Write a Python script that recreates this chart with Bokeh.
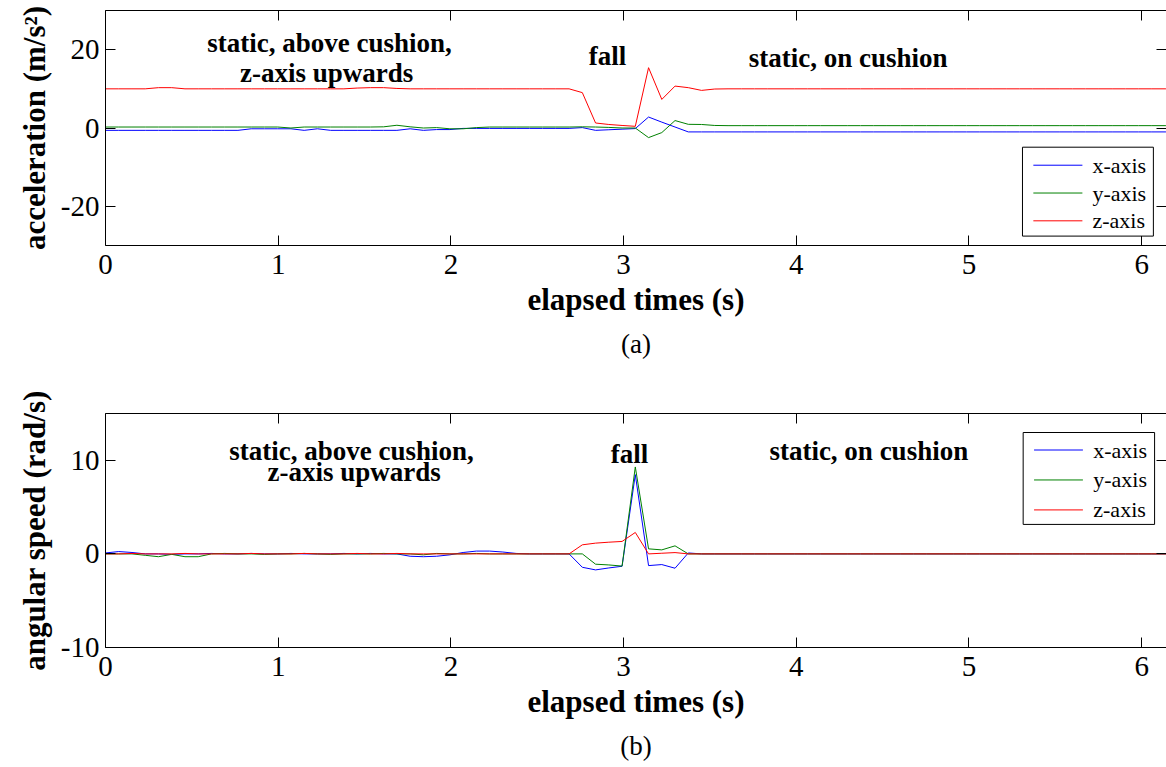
import numpy as np
from bokeh.plotting import figure
from bokeh.models import (LinearAxis, Label, Title, FixedTicker, Range1d,
                          BoxAnnotation, Arrow)
from bokeh.layouts import column
from bokeh.embed import file_html
from bokeh.resources import INLINE

# sensor sampling period in seconds (~13 Hz)
SAMPLE_PERIOD = 0.0767

# ---- accelerometer (m/s^2) ----
acc_x = [
    -0.6, -0.6, -0.6, -0.6, -0.6, -0.6, -0.6, -0.6, -0.6, -0.6,
    -0.6, -0.2, -0.2, -0.2, -0.2, -0.6, -0.2, -0.6, -0.6, -0.6,
    -0.6, -0.6, -0.6, -0.2, -0.6, -0.4, -0.4, -0.1, -0.1, -0.1,
    -0.1, -0.1, -0.1, -0.1, -0.1, -0.1, 0.1, -0.6, -0.45, -0.3,
    -0.15, 2.8, 1.5, 0.25, -1.0, -1.0, -1.0, -1.0, -1.0, -1.0,
    -1.0, -1.0, -1.0, -1.0, -1.0, -1.0, -1.0, -1.0, -1.0, -1.0,
    -1.0, -1.0, -1.0, -1.0, -1.0, -1.0, -1.0, -1.0, -1.0, -1.0,
    -1.0, -1.0, -1.0, -1.0, -1.0, -1.0, -1.0, -1.0, -1.0, -1.0,
    -1.0, -1.0,
]
acc_y = [
    0.25, 0.25, 0.25, 0.25, 0.25, 0.25, 0.25, 0.25, 0.25, 0.25,
    0.25, 0.25, 0.25, 0.25, 0.0, 0.25, 0.25, 0.25, 0.25, 0.25,
    0.25, 0.3, 0.7, 0.3, 0.0, 0.1, -0.2, -0.2, 0.1, 0.25,
    0.25, 0.25, 0.25, 0.25, 0.25, 0.25, 0.3, 0.25, 0.15, 0.0,
    0.0, -2.45, -1.17, 1.9, 0.94, 0.9, 0.65, 0.6, 0.6, 0.6,
    0.6, 0.6, 0.6, 0.6, 0.6, 0.6, 0.6, 0.6, 0.6, 0.6,
    0.6, 0.6, 0.6, 0.6, 0.6, 0.6, 0.6, 0.6, 0.6, 0.6,
    0.6, 0.6, 0.6, 0.6, 0.6, 0.6, 0.6, 0.6, 0.6, 0.6,
    0.6, 0.6,
]
acc_z = [
    10.0, 10.0, 10.0, 10.0, 10.3, 10.3, 10.0, 10.0, 10.0, 10.0,
    10.0, 10.0, 10.0, 10.0, 10.0, 10.0, 10.0, 10.0, 10.0, 10.2,
    10.3, 10.3, 10.1, 10.0, 10.0, 10.0, 10.0, 10.0, 10.0, 10.0,
    10.0, 10.0, 10.0, 10.0, 10.0, 10.0, 9.03, 1.28, 0.9, 0.65,
    0.43, 15.4, 7.3, 10.7, 10.3, 9.6, 9.95, 10.0, 10.0, 10.0,
    10.0, 10.0, 10.0, 10.0, 10.0, 10.0, 10.0, 10.0, 10.0, 10.0,
    10.0, 10.0, 10.0, 10.0, 10.0, 10.0, 10.0, 10.0, 10.0, 10.0,
    10.0, 10.0, 10.0, 10.0, 10.0, 10.0, 10.0, 10.0, 10.0, 10.0,
    10.0, 10.0,
]

# ---- gyroscope (rad/s) ----
gyro_x = [
    0.1, 0.25, 0.15, 0.0, 0.0, -0.05, 0.0, 0.0, 0.05, 0.0,
    0.0, 0.05, 0.0, 0.0, 0.05, 0.0, 0.0, 0.0, 0.05, 0.0,
    0.05, 0.0, 0.0, -0.25, -0.3, -0.25, -0.1, 0.15, 0.3, 0.3,
    0.2, 0.05, 0.0, 0.0, 0.0, 0.0, -1.43, -1.71, -1.5, -1.32,
    8.47, -1.25, -1.14, -1.53, 0.1, 0.0, 0.0, 0.0, 0.0, 0.0,
    0.0, 0.0, 0.0, 0.0, 0.0, 0.0, 0.0, 0.0, 0.0, 0.0,
    0.0, 0.0, 0.0, 0.0, 0.0, 0.0, 0.0, 0.0, 0.0, 0.0,
    0.0, 0.0, 0.0, 0.0, 0.0, 0.0, 0.0, 0.0, 0.0, 0.0,
    0.0, 0.0,
]
gyro_y = [
    0.0, 0.0, 0.0, -0.15, -0.3, -0.05, -0.3, -0.3, 0.0, 0.05,
    0.0, 0.0, -0.05, 0.0, 0.0, 0.05, 0.0, -0.05, 0.0, 0.0,
    0.0, 0.05, 0.0, 0.0, -0.1, 0.05, 0.0, 0.0, 0.05, 0.0,
    0.0, 0.0, 0.0, 0.0, 0.0, 0.0, 0.0, -1.1, -1.18, -1.3,
    9.29, 0.54, 0.43, 0.86, 0.0, 0.0, 0.0, 0.0, 0.0, 0.0,
    0.0, 0.0, 0.0, 0.0, 0.0, 0.0, 0.0, 0.0, 0.0, 0.0,
    0.0, 0.0, 0.0, 0.0, 0.0, 0.0, 0.0, 0.0, 0.0, 0.0,
    0.0, 0.0, 0.0, 0.0, 0.0, 0.0, 0.0, 0.0, 0.0, 0.0,
    0.0, 0.0,
]
gyro_z = [
    0.0, 0.0, 0.05, 0.0, 0.0, 0.0, 0.05, 0.0, 0.0, 0.0,
    0.0, 0.05, 0.0, 0.0, 0.0, 0.05, 0.0, 0.0, 0.0, 0.05,
    0.0, 0.0, 0.05, 0.0, 0.0, 0.0, 0.0, 0.0, 0.0, 0.0,
    0.0, 0.0, 0.0, 0.0, 0.0, 0.0, 0.97, 1.15, 1.25, 1.33,
    2.29, 0.0, 0.07, 0.14, 0.0, 0.0, 0.0, 0.0, 0.0, 0.0,
    0.0, 0.0, 0.0, 0.0, 0.0, 0.0, 0.0, 0.0, 0.0, 0.0,
    0.0, 0.0, 0.0, 0.0, 0.0, 0.0, 0.0, 0.0, 0.0, 0.0,
    0.0, 0.0, 0.0, 0.0, 0.0, 0.0, 0.0, 0.0, 0.0, 0.0,
    0.0, 0.0,
]

x_ticks = [0, 1, 2, 3, 4, 5, 6]
acc_ticks = [-20, 0, 20]
gyro_ticks = [-10, 0, 10]
series_names = ["x-axis", "y-axis", "z-axis"]
series_colors = ["#0000ff", "#008000", "#ff0000"]

t = np.arange(len(acc_x)) * SAMPLE_PERIOD

SERIF = "Liberation Serif"
X_END = 6.144


def style_axis(ax, ticks, label_standoff=0, show_labels=True, show_line=True):
    ax.ticker = FixedTicker(ticks=ticks)
    ax.major_tick_in = 10
    ax.major_tick_out = 0
    ax.minor_tick_line_color = None
    ax.major_tick_line_color = "black"
    ax.axis_line_color = "black" if show_line else None
    ax.major_label_text_font = SERIF
    if show_labels:
        ax.major_label_text_color = "black"
        ax.major_label_text_font_size = "29px"
        ax.major_label_standoff = label_standoff
        # plain hyphen for negative numbers
        ax.major_label_overrides = {v: str(v) for v in ticks if v < 0}
    else:
        # tick marks only, no numbers
        ax.major_label_text_color = None
        ax.major_label_text_font_size = "0px"
        ax.major_label_standoff = 0


def add_key(p, box, rows, line_x, text_x):
    """Framed key: box = (left, right, bottom, top), rows = y of each entry."""
    left, right, bottom, top = box
    p.add_layout(BoxAnnotation(left=left, right=right, bottom=bottom, top=top,
                               fill_color="white", fill_alpha=1.0,
                               line_color="black", line_alpha=1.0,
                               line_width=1))
    for name, color, y in zip(series_names, series_colors, rows):
        p.add_layout(Arrow(end=None, x_start=line_x[0], x_end=line_x[1],
                           y_start=y, y_end=y, line_color=color,
                           line_width=1))
        p.add_layout(Label(x=text_x, y=y, text=name, text_align="left",
                           text_baseline="middle", text_font=SERIF,
                           text_font_size="22px", text_color="black"))


def make_panel(height, border_top, border_bottom, y_lo, y_hi, y_ticks, y_label,
               caption, ys, key, notes):
    p = figure(width=1166, height=height,
               x_range=Range1d(0, X_END), y_range=Range1d(y_lo, y_hi),
               output_backend="svg", toolbar_location=None,
               min_border_left=105, min_border_right=0,
               min_border_top=border_top, min_border_bottom=border_bottom,
               background_fill_color="white", border_fill_color="white")
    p.outline_line_color = None
    p.grid.visible = False

    for color, y in zip(series_colors, ys):
        p.line(t, y, line_color=color, line_width=1)

    # main axes
    style_axis(p.xaxis[0], x_ticks, label_standoff=9)
    style_axis(p.yaxis[0], y_ticks, label_standoff=6)
    p.xaxis[0].axis_label = "elapsed times (s)"
    p.yaxis[0].axis_label = y_label
    for ax in (p.xaxis[0], p.yaxis[0]):
        ax.axis_label_text_font = SERIF
        ax.axis_label_text_font_style = "bold"
        ax.axis_label_text_font_size = "31px"
        ax.axis_label_text_color = "black"
    p.xaxis[0].axis_label_standoff = 5
    p.yaxis[0].axis_label_standoff = 6

    # box ticks on the opposite sides
    top = LinearAxis()
    style_axis(top, x_ticks, show_labels=False)
    p.add_layout(top, "above")
    right = LinearAxis()
    style_axis(right, y_ticks, show_labels=False, show_line=False)
    p.add_layout(right, "right")

    cap = Title(text=caption, align="center", text_font=SERIF,
                text_font_style="normal", text_font_size="27px",
                text_color="black", offset=-15, standoff=14)
    p.add_layout(cap, "below")

    add_key(p, **key)

    for (x, y, txt) in notes:
        p.add_layout(Label(x=x, y=y, text=txt, text_align="center",
                           text_baseline="middle", text_font=SERIF,
                           text_font_style="bold", text_font_size="27px",
                           text_color="black"))
    return p


p_acc = make_panel(
    385, 10, 140, -30, 30, acc_ticks, "acceleration (m/s²)", "(a)",
    [acc_x, acc_y, acc_z],
    dict(box=(5.31, 6.068, -27.6, -4.9), rows=(-9.5, -16.6, -23.7),
         line_x=(5.373, 5.657), text_x=5.715),
    [(1.297, 21.6, "static, above cushion,"),
     (1.28, 13.95, "z-axis upwards"),
     (2.907, 18.5, "fall"),
     (4.30, 18.0, "static, on cushion")],
)

p_gyro = make_panel(
    382, 28, 120, -10, 15, gyro_ticks, "angular speed (rad/s)", "(b)",
    [gyro_x, gyro_y, gyro_z],
    dict(box=(5.314, 6.075, 3.15, 12.97), rows=(11.1, 7.9, 4.7),
         line_x=(5.377, 5.66), text_x=5.72),
    [(1.425, 11.0, "static, above cushion,"),
     (1.44, 8.76, "z-axis upwards"),
     (3.034, 10.65, "fall"),
     (4.42, 11.0, "static, on cushion")],
)

layout = column(p_acc, p_gyro, spacing=0)

with open("out.html", "w") as f:
    f.write(file_html(layout, INLINE))
